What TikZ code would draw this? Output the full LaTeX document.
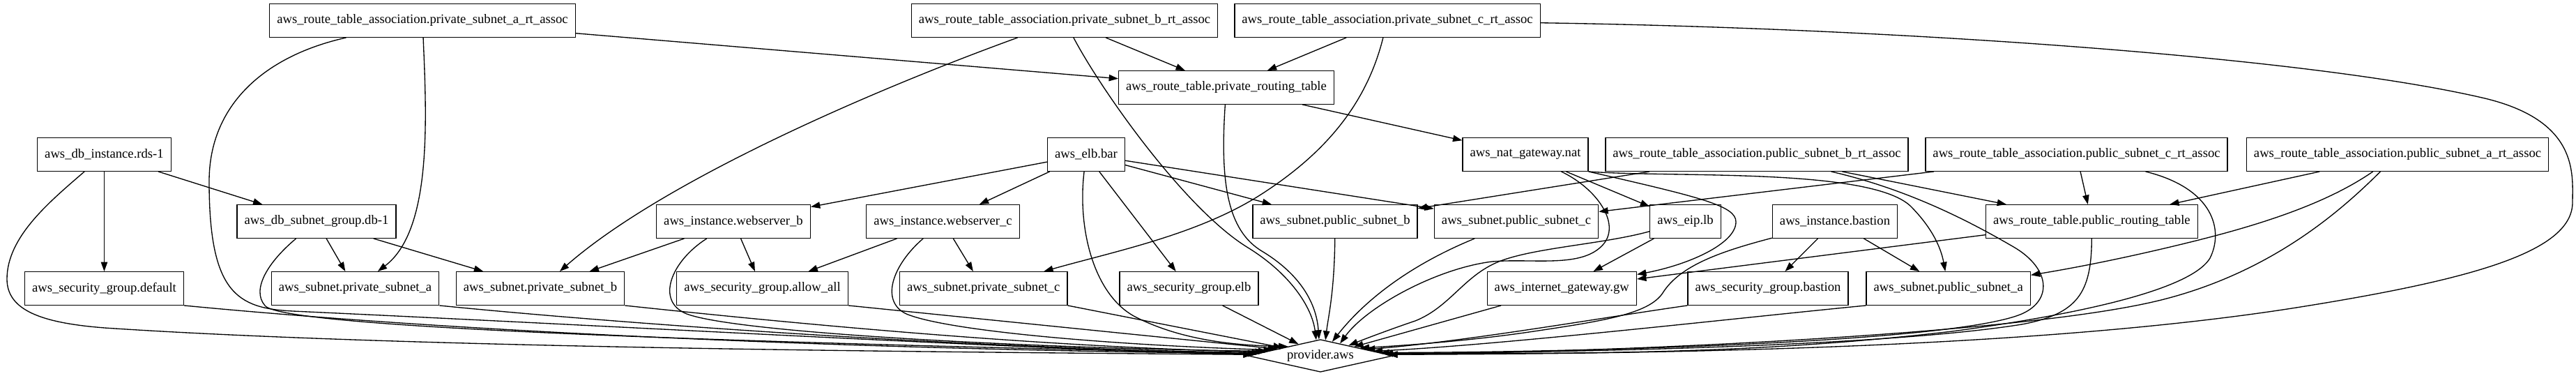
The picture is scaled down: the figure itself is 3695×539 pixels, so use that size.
\documentclass[tikz,border=0pt]{standalone}
\usepackage{fontspec}
\setmainfont{Liberation Serif}
\usetikzlibrary{shapes.geometric, arrows.meta}
\tikzstyle{resource} = [rectangle, draw=black, line width=1pt, minimum height=35.7pt, inner xsep=7.9pt, font=\fontsize{14}{16}\selectfont]
\tikzstyle{root} = [diamond, draw=black, line width=1pt, aspect=4, inner sep=0pt, minimum width=156pt, minimum height=35pt, font=\fontsize{14}{16}\selectfont]
\tikzstyle{arrow} = [line width=1pt, ->, >={Triangle[length=10pt, width=7pt]}]

\begin{document}
\begin{tikzpicture}[x=0.75pt, y=-0.75pt]

    \path[fill=white, use as bounding box] (0,0) rectangle (3695,539);

    % Nodes
    \node (ra) [resource] at (606,29.5) {aws\_route\_table\_association.private\_subnet\_a\_rt\_assoc};
    \node (rb) [resource] at (1527,29.5) {aws\_route\_table\_association.private\_subnet\_b\_rt\_assoc};
    \node (rc) [resource] at (1990,29.5) {aws\_route\_table\_association.private\_subnet\_c\_rt\_assoc};
    \node (privrt) [resource] at (1759,125.5) {aws\_route\_table.private\_routing\_table};

    \node (rds) [resource] at (149.5,221.5) {aws\_db\_instance.rds-1};
    \node (elb) [resource] at (1558,221.5) {aws\_elb.bar};
    \node (nat) [resource] at (2188,221.5) {aws\_nat\_gateway.nat};
    \node (pubbassoc) [resource] at (2520,221.5) {aws\_route\_table\_association.public\_subnet\_b\_rt\_assoc};
    \node (pubcassoc) [resource] at (2978.5,221.5) {aws\_route\_table\_association.public\_subnet\_c\_rt\_assoc};
    \node (pubaassoc) [resource] at (3439,221.5) {aws\_route\_table\_association.public\_subnet\_a\_rt\_assoc};

    \node (dbsg) [resource] at (454,317.5) {aws\_db\_subnet\_group.db-1};
    \node (webb) [resource] at (1052,317.5) {aws\_instance.webserver\_b};
    \node (webc) [resource] at (1352.5,317.5) {aws\_instance.webserver\_c};
    \node (pubsubb) [resource] at (1915,317.5) {aws\_subnet.public\_subnet\_b};
    \node (pubsubc) [resource] at (2175,317.5) {aws\_subnet.public\_subnet\_c};
    \node (eip) [resource] at (2417.5,317.5) {aws\_eip.lb};
    \node (bastion) [resource] at (2632,317.5) {aws\_instance.bastion};
    \node (pubrt) [resource] at (3000.4,317.5) {aws\_route\_table.public\_routing\_table};

    \node (sgdefault) [resource] at (149.5,413.5) {aws\_security\_group.default};
    \node (priva) [resource] at (509.5,413.5) {aws\_subnet.private\_subnet\_a};
    \node (privb) [resource] at (775,413.5) {aws\_subnet.private\_subnet\_b};
    \node (allowall) [resource] at (1093.5,413.5) {aws\_security\_group.allow\_all};
    \node (privc) [resource] at (1410.7,413.5) {aws\_subnet.private\_subnet\_c};
    \node (sgelb) [resource] at (1705.5,413.5) {aws\_security\_group.elb};
    \node (igw) [resource] at (2240.3,413.5) {aws\_internet\_gateway.gw};
    \node (sgbastion) [resource] at (2536,413.5) {aws\_security\_group.bastion};
    \node (pubsuba) [resource] at (2794.7,413.5) {aws\_subnet.public\_subnet\_a};

    \node (provider) [root] at (1894,510) {provider.aws};

    % Arrows
    \draw [arrow] (ra) -- (privrt);
    \draw [arrow] (ra) .. controls (612,170) and (620,330) .. (priva);
    \draw [arrow] (ra) .. controls (380,80) and (300,150) .. (300,260) .. controls (300,420) and (340,442) .. (420,446) .. controls (900,468) and (1450,500) .. (provider.179);

    \draw [arrow] (rb) .. controls (1250,130) and (950,260) .. (privb);
    \draw [arrow] (rb) -- (privrt);
    \draw [arrow] (rb) .. controls (1580,130) and (1700,300) .. (1790,355) .. controls (1850,392) and (1882,440) .. (provider.105);

    \draw [arrow] (rc) -- (privrt);
    \draw [arrow] (rc) .. controls (1960,150) and (1900,220) .. (1810,278) .. controls (1720,336) and (1600,360) .. (privc);
    \draw [arrow] (rc) .. controls (2700,40) and (3300,80) .. (3560,140) .. controls (3700,172) and (3690,250) .. (3690,290) .. controls (3690,360) and (3550,400) .. (3300,440) .. controls (2900,504) and (2300,507) .. (provider.1);

    \draw [arrow] (privrt) -- (nat);
    \draw [arrow] (privrt) .. controls (1750,260) and (1760,330) .. (1810,360) .. controls (1860,390) and (1888,430) .. (provider.95);

    \draw [arrow] (rds) -- (dbsg);
    \draw [arrow] (rds) -- (sgdefault);
    \draw [arrow] (rds) .. controls (70,290) and (10,340) .. (10,400) .. controls (10,445) and (60,463) .. (150,470) .. controls (600,500) and (1400,505) .. (provider.179);

    \draw [arrow] (dbsg) -- (priva);
    \draw [arrow] (dbsg) -- (privb);
    \draw [arrow] (dbsg) .. controls (385,375) and (360,415) .. (380,438) .. controls (400,466) and (900,488) .. (provider.178);

    \draw [arrow] (sgdefault.south east) .. controls (700,480) and (1300,502) .. (provider.178);
    \draw [arrow] (priva.south east) .. controls (900,465) and (1400,500) .. (provider.177);
    \draw [arrow] (privb.south east) .. controls (1150,465) and (1500,498) .. (provider.176);

    \draw [arrow] (elb) -- (webb);
    \draw [arrow] (elb) -- (webc);
    \draw [arrow] (elb) -- (sgelb);
    \draw [arrow] (elb) -- (pubsubb);
    \draw [arrow] (elb) -- (pubsubc);
    \draw [arrow] (elb) .. controls (1545,330) and (1570,425) .. (1630,455) .. controls (1690,485) and (1760,495) .. (provider.164);

    \draw [arrow] (webb) -- (privb);
    \draw [arrow] (webb) -- (allowall);
    \draw [arrow] (webb) .. controls (962,375) and (940,432) .. (985,450) .. controls (1060,478) and (1500,500) .. (provider.175);

    \draw [arrow] (webc) -- (allowall);
    \draw [arrow] (webc) -- (privc);
    \draw [arrow] (webc) .. controls (1280,380) and (1262,432) .. (1300,450) .. controls (1360,475) and (1600,495) .. (provider.173);

    \draw [arrow] (allowall.south east) -- (provider.171);
    \draw [arrow] (privc.south east) -- (provider.168);
    \draw [arrow] (sgelb) -- (provider.152);

    \draw [arrow] (nat) -- (eip);
    \draw [arrow] (nat.south east) .. controls (2440,283) and (2490,295) .. (2490,318) .. controls (2490,350) and (2420,380) .. (igw);
    \draw [arrow] (nat) .. controls (2290,270) and (2325,320) .. (2300,350) .. controls (2270,385) and (2200,370) .. (2140,375) .. controls (2060,385) and (1960,440) .. (provider.32);
    \draw [arrow] (nat.south east) .. controls (2400,255) and (2680,240) .. (2740,295) .. controls (2775,330) and (2785,360) .. (pubsuba);

    \draw [arrow] (pubbassoc) -- (pubsubb);
    \draw [arrow] (pubbassoc) -- (pubrt);
    \draw [arrow] (pubbassoc) .. controls (2740,272) and (2830,320) .. (2890,355) .. controls (2940,385) and (2945,430) .. (2900,450) .. controls (2800,492) and (2250,505) .. (provider.3);

    \draw [arrow] (pubcassoc) -- (pubsubc);
    \draw [arrow] (pubcassoc) -- (pubrt);
    \draw [arrow] (pubcassoc) .. controls (3175,270) and (3190,330) .. (3170,370) .. controls (3140,420) and (2950,455) .. (2800,475) .. controls (2500,510) and (2250,506) .. (provider.2);

    \draw [arrow] (pubaassoc) -- (pubrt);
    \draw [arrow] (pubaassoc) .. controls (3340,290) and (3250,320) .. (3150,345) .. controls (3050,370) and (2970,385) .. (pubsuba);
    \draw [arrow] (pubaassoc) .. controls (3360,300) and (3260,390) .. (3100,430) .. controls (2900,480) and (2300,505) .. (provider.1);

    \draw [arrow] (pubrt) -- (igw);
    \draw [arrow] (pubrt) .. controls (3000,420) and (2980,450) .. (2900,465) .. controls (2700,497) and (2250,505) .. (provider.2);

    \draw [arrow] (pubsubb) .. controls (1914,420) and (1905,455) .. (provider.72);
    \draw [arrow] (pubsubc) .. controls (2010,385) and (1950,440) .. (provider.50);

    \draw [arrow] (eip) -- (igw);
    \draw [arrow] (eip) .. controls (2300,350) and (2200,355) .. (2150,375) .. controls (2100,395) and (2080,440) .. (2030,460) .. controls (2000,470) and (1960,485) .. (provider.20);

    \draw [arrow] (bastion) -- (sgbastion);
    \draw [arrow] (bastion) -- (pubsuba);
    \draw [arrow] (bastion) .. controls (2470,360) and (2410,380) .. (2385,420) .. controls (2365,450) and (2300,460) .. (2200,475) .. controls (2100,490) and (2000,496) .. (provider.11);

    \draw [arrow] (igw) -- (provider.15);
    \draw [arrow] (sgbastion.south west) .. controls (2300,455) and (2100,490) .. (provider.8);
    \draw [arrow] (pubsuba.south west) .. controls (2500,455) and (2150,495) .. (provider.5);

\end{tikzpicture}
\end{document}
